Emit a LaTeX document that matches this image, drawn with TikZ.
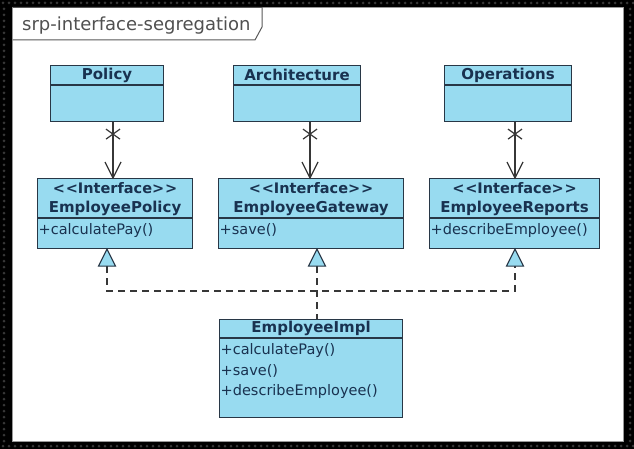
\documentclass[tikz,border=0pt]{standalone}
\usepackage{fontspec}
\setmainfont{DejaVu Sans}
\usetikzlibrary{calc}
\definecolor{boxfill}{RGB}{152,219,240}
\definecolor{boxline}{RGB}{40,55,70}
\definecolor{txt}{RGB}{25,50,80}
\definecolor{wire}{RGB}{55,55,55}
\definecolor{titletxt}{RGB}{80,80,80}
\definecolor{dotc}{RGB}{55,55,55}
\newcommand{\stereo}[1]{{<}\hspace{0.8pt}{<}#1{>}\hspace{0.8pt}{>}}
\tikzset{
  cls/.style={draw=boxline, fill=boxfill, line width=1.1pt, anchor=north west, inner sep=0pt},
  nm/.style={text=txt, font=\fontsize{15}{17}\selectfont\bfseries, inner sep=0pt},
  st/.style={text=txt, font=\fontsize{14.5}{17}\selectfont\bfseries, inner sep=0pt},
  mt/.style={text=txt, font=\fontsize{14.5}{17}\selectfont, inner sep=0pt, anchor=west},
  divider/.style={draw=boxline, line width=1.1pt},
  assoc/.style={draw=wire, line width=1.2pt},
  real/.style={draw=wire, line width=1.2pt, dash pattern=on 7pt off 5pt},
  tri/.style={draw=boxline, fill=boxfill, line width=1.1pt, line join=miter}
}
\begin{document}
\begin{tikzpicture}[x=1pt,y=-1pt]
\useasboundingbox (0,0) rectangle (634,449);
% background
\fill[black] (0,0) rectangle (634,449);
\foreach \x in {3,9,...,633} {
  \fill[dotc] (\x,3) circle (1.5);
  \fill[dotc] (\x,446) circle (1.5);
}
\foreach \y in {9,15,...,441} {
  \fill[dotc] (4,\y) circle (1.5);
  \fill[dotc] (630,\y) circle (1.5);
}
\fill[white] (12,7) rectangle (624,442);
\draw[gray!80, line width=0.8pt] (12.5,7.5) rectangle (623.5,441.5);
% title tab
\draw[gray!70!black, line width=1pt] (12.5,7.5) -- (262,7.5) -- (262,27) -- (255,40) -- (12.5,40);
\node[anchor=base west, text=titletxt, font=\fontsize{18}{21}\selectfont, inner sep=0pt] (title) at (22,31) {srp-interface-segregation};

% classes
\node[cls, minimum width=113pt, minimum height=56pt] (policy) at (50,65) {};
\node[cls, minimum width=127pt, minimum height=56pt] (arch) at (233,65) {};
\node[cls, minimum width=127pt, minimum height=56pt] (ops) at (444,65) {};
\node[cls, minimum width=155pt, minimum height=70pt] (ipol) at (37,178) {};
\node[cls, minimum width=185pt, minimum height=70pt] (igw) at (218,178) {};
\node[cls, minimum width=170pt, minimum height=70pt] (irep) at (429,178) {};
\node[cls, minimum width=183pt, minimum height=98pt] (impl) at (219,319) {};

% dividers
\draw[divider] (policy.west |- 0,85) -- (policy.east |- 0,85);
\draw[divider] (arch.west |- 0,85) -- (arch.east |- 0,85);
\draw[divider] (ops.west |- 0,85) -- (ops.east |- 0,85);
\draw[divider] (ipol.west |- 0,218) -- (ipol.east |- 0,218);
\draw[divider] (igw.west |- 0,218) -- (igw.east |- 0,218);
\draw[divider] (irep.west |- 0,218) -- (irep.east |- 0,218);
\draw[divider] (impl.west |- 0,338) -- (impl.east |- 0,338);

% texts
\node[nm] (policyname) at (policy.center |- 0,75) {Policy};
\node[nm] (archname) at (arch.center |- 0,75) {Architecture};
\node[nm] (opsname) at (ops.center |- 0,75) {Operations};

\node[st] (ipolst) at (ipol.center |- 0,188) {\stereo{Interface}};
\node[nm] (ipolname) at (ipol.center |- 0,208) {EmployeePolicy};
\node[mt] (ipolm) at ($(ipol.west |- 0,230)+(1.5,0)$) {+calculatePay()};

\node[st] (igwst) at (igw.center |- 0,188) {\stereo{Interface}};
\node[nm] (igwname) at (igw.center |- 0,208) {EmployeeGateway};
\node[mt] (igwm) at ($(igw.west |- 0,230)+(1.5,0)$) {+save()};

\node[st] (irepst) at (irep.center |- 0,188) {\stereo{Interface}};
\node[nm] (irepname) at (irep.center |- 0,208) {EmployeeReports};
\node[mt] (irepm) at ($(irep.west |- 0,230)+(1.5,0)$) {+describeEmployee()};

\node[nm] (implname) at (impl.center |- 0,328) {EmployeeImpl};
\node[mt] (implm1) at ($(impl.west |- 0,350)+(1.5,0)$) {+calculatePay()};
\node[mt] (implm2) at ($(impl.west |- 0,371)+(1.5,0)$) {+save()};
\node[mt] (implm3) at ($(impl.west |- 0,391)+(1.5,0)$) {+describeEmployee()};

% association connectors (x = non-navigable end, open arrow = navigable)
\coordinate (ax1) at (113,0);
\coordinate (ax2) at (310,0);
\coordinate (ax3) at (515,0);
\foreach \src/\dst/\ax in {policy/ipol/ax1, arch/igw/ax2, ops/irep/ax3} {
  \draw[assoc] (\src.south -| \ax) -- (\dst.north -| \ax);
  \draw[assoc] ($(\src.south -| \ax)+(-7,7)$) -- ($(\src.south -| \ax)+(7,17)$);
  \draw[assoc] ($(\src.south -| \ax)+(7,7)$) -- ($(\src.south -| \ax)+(-7,17)$);
  \draw[assoc, line join=miter] ($(\dst.north -| \ax)+(-8,-16)$) -- (\dst.north -| \ax) -- ($(\dst.north -| \ax)+(8,-16)$);
}

% realization connectors
\coordinate (tx1) at (107,0);
\coordinate (tx2) at (317,0);
\coordinate (tx3) at (515,0);
\coordinate (bus) at (0,291);
\draw[real] ($(ipol.south -| tx1)+(0,17)$) -- (tx1 |- bus) -- (tx3 |- bus) -- ($(irep.south -| tx3)+(0,17)$);
\draw[real] ($(igw.south -| tx2)+(0,17)$) -- (impl.north -| tx2);
\foreach \n/\t in {ipol/tx1, igw/tx2, irep/tx3} {
  \draw[tri] (\n.south -| \t) -- ($(\n.south -| \t)+(8.5,17)$) -- ($(\n.south -| \t)+(-8.5,17)$) -- cycle;
}
\end{tikzpicture}
\end{document}
